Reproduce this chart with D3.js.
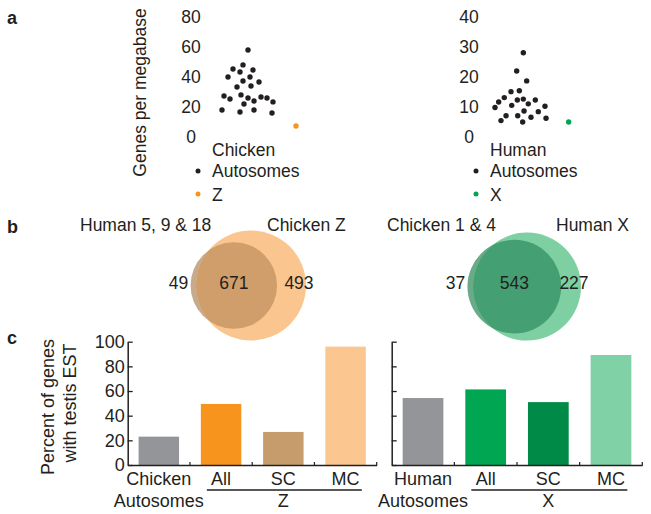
<!DOCTYPE html>
<html><head><meta charset="utf-8">
<script src="https://cdn.jsdelivr.net/npm/d3@7"></script>
<style>
body{margin:0;background:#fff;}
text{font-family:"Liberation Sans",Arial,Helvetica,sans-serif;fill:#231f20;}
</style></head>
<body><svg id="c" width="651" height="514"></svg>
<script>
// ---------- DATA ----------
// Panel a: genes per megabase (jitter = horizontal spread index, value = genes/Mb)
const chickenAutoJitter = [3.25,1.375,2.625,2.25,3.875,0.75,3.5,2.625,4.625,3.625,1.875,0.25,1.0,2.375,3.25,4.0,4.875,5.625,6.375,0,2.25,2.75,4.0,6.25];
const chickenAutoValues = [58.1,45.4,48.1,43.4,44.7,40.0,40.0,37.3,36.7,34.0,33.3,27.3,25.3,28.0,25.9,23.9,26.6,25.9,23.3,17.9,16.5,21.9,17.9,15.9];
const chickenZJitter = [9.25];
const chickenZValues = [7.2];
const humanAutoJitter = [3.54,2.71,3.96,2.0,3.04,1.16,0.46,0,2.09,2.79,3.54,4.16,5.04,6.25,3.63,5.41,1.38,2.84,0.75,3.46,4.5,6.38];
const humanAutoValues = [28.1,22.0,18.7,15.1,15.4,13.1,11.6,9.8,10.5,12.3,12.6,11.0,12.3,10.2,8.6,8.4,7.0,7.0,5.4,4.9,6.5,6.2];
const humanXJitter = [9.21];
const humanXValues = [4.9];
const chickenTicks = [0,20,40,60,80];
const humanTicks = [0,10,20,30,40];

// Panel b: Venn counts [only-left, overlap, only-right]
const vennZLabels = ["Human 5, 9 & 18","Chicken Z"];
const vennZCounts = [49,671,493];
const vennXLabels = ["Chicken 1 & 4","Human X"];
const vennXCounts = [37,543,227];

// Panel c: percent of genes with testis EST
const barCatsZ = ["Chicken Autosomes","All","SC","MC"];
const barValsZ = [23,49.5,26.8,96];
const barCatsX = ["Human Autosomes","All","SC","MC"];
const barValsX = [54.3,61.3,51,89.2];
const barTicks = [0,20,40,60,80,100];

// ---------- DRAW ----------
const svg = d3.select("#c");
const ink = "#231f20";
const FS = 17.5;

// panel letters
[["a",7,24],["b",7,233],["c",7,344]].forEach(([t,x,y])=>{
  svg.append("text").attr("x",x).attr("y",y).attr("font-weight","bold").attr("font-size",18).text(t);
});

// ---- Panel a ----
function scatter(x0, tickX, ticks, ymax, autoJ, autoV, spJ, spV, spColor, legName, spName){
  const y = d3.scaleLinear().domain([0,ymax]).range([136.7,17.3]);
  const x = d3.scaleLinear().domain([0,10]).range([x0, x0+80]);
  const g = svg.append("g");
  const ax = g.append("g").attr("transform",`translate(${tickX},0)`)
    .call(d3.axisLeft(y).tickValues(ticks).tickSize(0).tickPadding(0));
  ax.select(".domain").remove();
  ax.selectAll("text").attr("font-size",FS).attr("text-anchor","middle").attr("x",0)
    .attr("font-family","Liberation Sans, Arial, sans-serif").attr("fill",ink);
  g.selectAll("circle.a").data(autoV).enter().append("circle")
    .attr("cx",(d,i)=>x(autoJ[i])).attr("cy",d=>y(d)).attr("r",2.7).attr("fill",ink);
  g.selectAll("circle.s").data(spV).enter().append("circle")
    .attr("cx",(d,i)=>x(spJ[i])).attr("cy",d=>y(d)).attr("r",2.7).attr("fill",spColor);
  // legend
  const lx = tickX + 7;
  g.append("text").attr("x",lx+14).attr("y",156).attr("font-size",FS).text(legName);
  g.append("circle").attr("cx",lx).attr("cy",171).attr("r",2.5).attr("fill",ink);
  g.append("text").attr("x",lx+14).attr("y",177).attr("font-size",FS).text("Autosomes");
  g.append("circle").attr("cx",lx).attr("cy",194).attr("r",2.5).attr("fill",spColor);
  g.append("text").attr("x",lx+14).attr("y",201).attr("font-size",FS).text(spName);
}
scatter(222, 191, chickenTicks, 80, chickenAutoJitter, chickenAutoValues, chickenZJitter, chickenZValues, "#f7941d", "Chicken", "Z");
scatter(495, 469, humanTicks, 40, humanAutoJitter, humanAutoValues, humanXJitter, humanXValues, "#00a651", "Human", "X");

svg.append("text").attr("transform","translate(140,92.5) rotate(-90)")
  .attr("text-anchor","middle").attr("dy","0.35em").attr("font-size",FS).text("Genes per megabase");

// ---- Panel b ----
let clipId = 0;
function venn(labels, counts, bigR, cxBig, cxSmall, cy, cols, labelX){
  const total = counts[1]+counts[2];
  const rScale = d3.scaleSqrt().domain([0,total]).range([0,bigR]);
  const rBig = rScale(total), rSmall = rScale(counts[0]+counts[1]);
  const g = svg.append("g");
  const id = "clip"+(clipId++);
  g.append("clipPath").attr("id",id).append("circle").attr("cx",cxBig).attr("cy",cy).attr("r",rBig);
  g.append("circle").attr("cx",cxSmall).attr("cy",cy).attr("r",rSmall).attr("fill",cols[0]);
  g.append("circle").attr("cx",cxBig).attr("cy",cy).attr("r",rBig).attr("fill",cols[2]);
  g.append("circle").attr("cx",cxSmall).attr("cy",cy).attr("r",rSmall).attr("fill",cols[1]).attr("clip-path",`url(#${id})`);
  g.append("text").attr("x",labelX[0]).attr("y",231).attr("font-size",FS).text(labels[0]);
  g.append("text").attr("x",labelX[1]).attr("y",231).attr("font-size",FS).text(labels[1]);
  const nx = [cxSmall - rSmall - 12, cxSmall, cxBig + rBig - 7];
  counts.forEach((c,i)=>{
    g.append("text").attr("x",nx[i]).attr("y",289).attr("text-anchor","middle").attr("font-size",FS).text(c);
  });
}
venn(vennZLabels, vennZCounts, 55, 251, 233.8, 285.5, ["#c6aa8e","#d09e6b","#fac58e"], [80,267]);
venn(vennXLabels, vennXCounts, 54, 527, 514.3, 286.6, ["#6aaa88","#44a072","#7ecfa2"], [387,556]);

// ---- Panel c ----
const yB = d3.scaleLinear().domain([0,100]).range([465,341.7]);
function bars(x0, x1, cats, vals, cols, groupName, showLabels){
  const x = d3.scaleBand().domain(cats).range([x0,x1]).paddingInner(0.35).paddingOuter(0.175);
  const g = svg.append("g");
  g.selectAll("rect").data(vals).enter().append("rect")
    .attr("x",(d,i)=>x(cats[i])).attr("width",x.bandwidth())
    .attr("y",d=>yB(d)).attr("height",d=>yB(0)-yB(d)).attr("fill",(d,i)=>cols[i]);
  const ay = g.append("g").attr("transform",`translate(${x0},0)`)
    .call(d3.axisLeft(yB).tickValues(barTicks).tickSizeInner(-5).tickSizeOuter(0).tickPadding(3));
  ay.select(".domain").attr("stroke",ink).attr("stroke-width",1.5);
  ay.selectAll(".tick line").attr("stroke",ink).attr("stroke-width",1.3);
  ay.selectAll("text").attr("font-size",18).attr("fill",ink).attr("font-family","Liberation Sans, Arial, sans-serif");
  if(!showLabels) ay.selectAll("text").remove();
  const axb = g.append("g").attr("transform",`translate(0,465)`)
    .call(d3.axisBottom(x).tickSize(0).tickFormat(""));
  axb.select(".domain").attr("stroke",ink).attr("stroke-width",1.5);
  axb.selectAll(".tick").remove();
  // boundary ticks pointing up
  cats.forEach((c,i)=>{
    const bx = x0 + x.step()*(i+1);
    g.append("line").attr("x1",bx).attr("x2",bx).attr("y1",465).attr("y2",462).attr("stroke",ink).attr("stroke-width",1.2);
  });
  // category labels
  const c0 = x(cats[0]) + x.bandwidth()/2;
  const parts = cats[0].split(" ");
  g.append("text").attr("x",c0).attr("y",485).attr("text-anchor","middle").attr("font-size",18).text(parts[0]);
  g.append("text").attr("x",c0).attr("y",506.5).attr("text-anchor","middle").attr("font-size",18).text(parts[1]);
  cats.slice(1).forEach(c=>{
    g.append("text").attr("x",x(c)+x.bandwidth()/2).attr("y",485).attr("text-anchor","middle").attr("font-size",18).text(c);
  });
  const ul0 = x(cats[1]) + 6, ul1 = x(cats[3]) + x.bandwidth() - 4;
  g.append("line").attr("x1",ul0).attr("x2",ul1).attr("y1",490).attr("y2",490).attr("stroke",ink).attr("stroke-width",1.5);
  g.append("text").attr("x",x(cats[2])+x.bandwidth()/2).attr("y",506.5).attr("text-anchor","middle").attr("font-size",18).text(groupName);
}
bars(127.7, 376.7, barCatsZ, barValsZ, ["#939598","#f7941d","#c69c6d","#fbc68f"], "Z", true);
bars(391.7, 642.3, barCatsX, barValsX, ["#939598","#00a651","#008a47","#80d1a6"], "X", false);

svg.append("text").attr("transform","translate(48,407) rotate(-90)")
  .attr("text-anchor","middle").attr("dy","0.35em").attr("font-size",18).text("Percent of genes");
svg.append("text").attr("transform","translate(70,403) rotate(-90)")
  .attr("text-anchor","middle").attr("dy","0.35em").attr("font-size",18).text("with testis EST");
</script></body></html>
